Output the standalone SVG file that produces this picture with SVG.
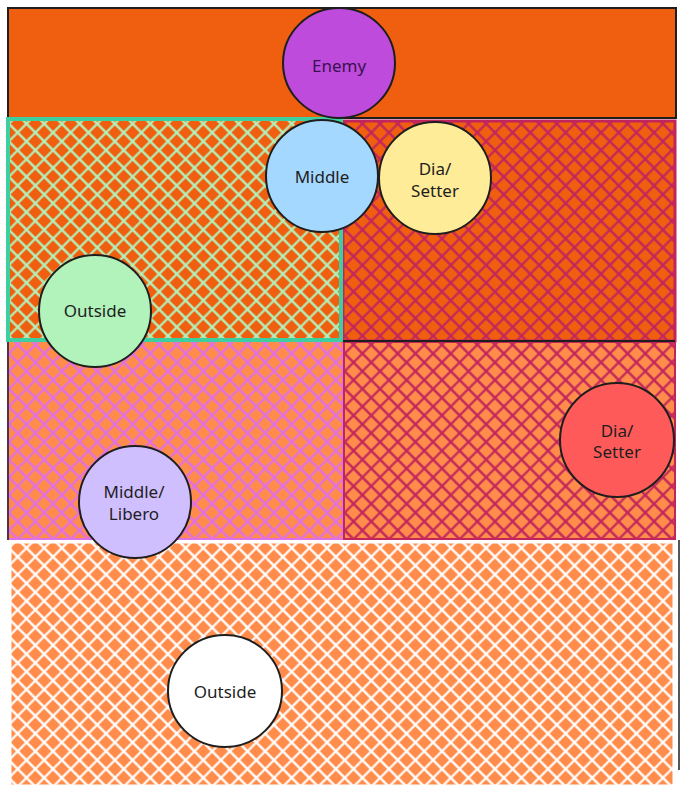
<svg xmlns="http://www.w3.org/2000/svg" width="683" height="796" viewBox="0 0 683 796">
<style>
.lbl{font-family:"Noto Sans","Liberation Sans",sans-serif;font-size:17px;fill:#1e1e1e;text-anchor:middle;dominant-baseline:central}
.node{stroke:#1e1e1e;stroke-width:2}
</style>
<defs>
<pattern id="hGreen" patternUnits="userSpaceOnUse" width="12.5" height="12.5" patternTransform="rotate(45)"><rect width="12.5" height="12.5" fill="#f05f0f"/><path d="M0 6.25H12.5M6.25 0V12.5" stroke="#b2f2bb" stroke-width="2.2"/></pattern>
<pattern id="hCrimson" patternUnits="userSpaceOnUse" width="12.5" height="12.5" patternTransform="rotate(45)"><rect width="12.5" height="12.5" fill="#f05f0f"/><path d="M0 6.25H12.5M6.25 0V12.5" stroke="#c2255c" stroke-width="2.2"/></pattern>
<pattern id="hPink" patternUnits="userSpaceOnUse" width="12.5" height="12.5" patternTransform="rotate(45)"><rect width="12.5" height="12.5" fill="#ff8c4a"/><path d="M0 6.25H12.5M6.25 0V12.5" stroke="#e070e6" stroke-width="2.2"/></pattern>
<pattern id="hCrimsonL" patternUnits="userSpaceOnUse" width="12.5" height="12.5" patternTransform="rotate(45)"><rect width="12.5" height="12.5" fill="#ff8c4a"/><path d="M0 6.25H12.5M6.25 0V12.5" stroke="#c2255c" stroke-width="2.2"/></pattern>
<pattern id="hWhite" patternUnits="userSpaceOnUse" width="12.5" height="12.5" patternTransform="rotate(45)"><rect width="12.5" height="12.5" fill="#ff8c4a"/><path d="M0 6.25H12.5M6.25 0V12.5" stroke="#ffffff" stroke-width="2.2"/></pattern>
</defs>
<rect width="683" height="796" fill="#ffffff"/>
<g id="zone-top"><rect x="8" y="8" width="668" height="110" fill="#f05f0f" stroke="#1e1e1e" stroke-width="2"/></g>
<g id="zone-bottom"><rect x="10" y="542" width="664" height="244" fill="url(#hWhite)" stroke="#ffffff" stroke-width="3"/><line x1="679" y1="540" x2="679" y2="770" stroke="#1e1e1e" stroke-width="1.5"/></g>
<g id="zone-mid-left"><rect x="8" y="341" width="335" height="198" fill="url(#hPink)" stroke="#e070e6" stroke-width="2"/><line x1="8" y1="340" x2="8" y2="540" stroke="#1e1e1e" stroke-width="1.5"/></g>
<g id="zone-mid-right"><rect x="344" y="342" width="331" height="197" fill="url(#hCrimsonL)" stroke="#c2255c" stroke-width="2"/></g>
<g id="zone-top-right"><rect x="343" y="121" width="332" height="220" fill="url(#hCrimson)" stroke="#c2255c" stroke-width="3"/><line x1="343" y1="341" x2="675" y2="341" stroke="#1e1e1e" stroke-width="2"/></g>
<g id="zone-top-left"><rect x="8" y="119" width="333" height="221" fill="url(#hGreen)" stroke="#3dcf9f" stroke-width="4"/></g>
<g id="connectors"></g>
<g id="enemy"><ellipse cx="339" cy="63" rx="56" ry="55" fill="#be4bdb" class="node"/><text x="339" y="65" class="lbl" style="fill:#3a1050">Enemy</text></g>
<g id="middle"><circle cx="322" cy="176" r="56" fill="#a5d8ff" class="node"/><text x="322" y="176" class="lbl">Middle</text></g>
<g id="dia-setter-1"><circle cx="435" cy="178" r="56" fill="#ffec99" class="node"/><text x="435" y="168" class="lbl">Dia/</text><text x="435" y="190" class="lbl">Setter</text></g>
<g id="outside-1"><circle cx="95" cy="311" r="56" fill="#b2f2bb" class="node"/><text x="95" y="310" class="lbl">Outside</text></g>
<g id="middle-libero"><circle cx="135" cy="502" r="56" fill="#d0bfff" class="node"/><text x="134" y="491" class="lbl">Middle/</text><text x="134" y="513" class="lbl">Libero</text></g>
<g id="dia-setter-2"><circle cx="617" cy="440" r="57" fill="#ff5a5a" class="node"/><text x="617" y="430" class="lbl">Dia/</text><text x="617" y="451" class="lbl">Setter</text></g>
<g id="outside-2"><ellipse cx="225" cy="691" rx="57" ry="56" fill="#ffffff" class="node"/><text x="225" y="691" class="lbl">Outside</text></g>
</svg>
